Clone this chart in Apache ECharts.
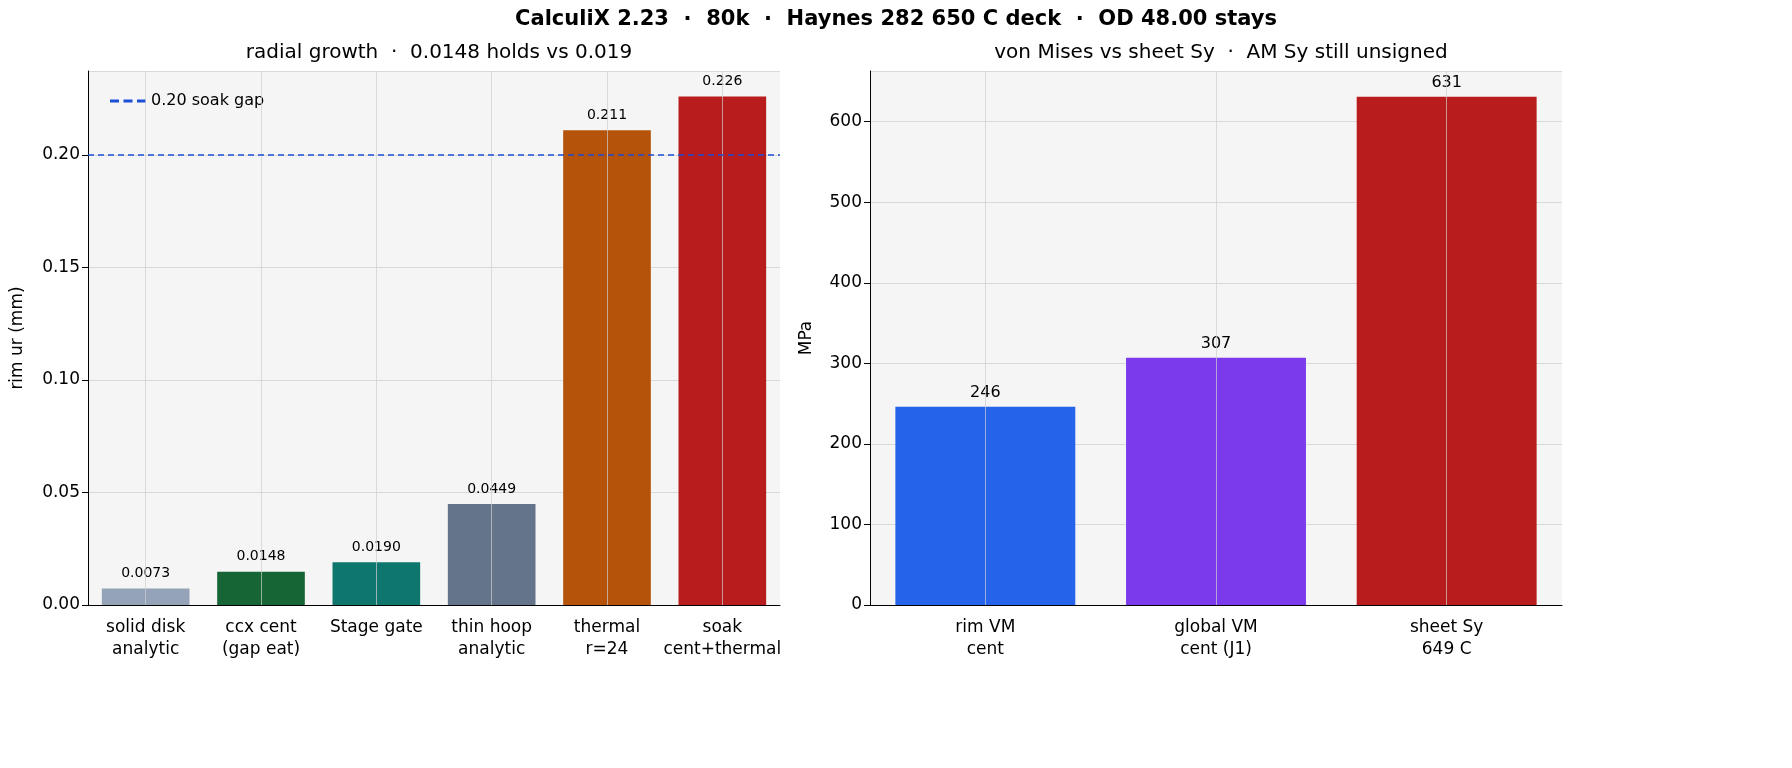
<!DOCTYPE html><html><head><meta charset="utf-8"><script src="https://cdn.jsdelivr.net/npm/echarts@6/dist/echarts.min.js"></script></head><body style="margin:0"><div id="c" style="width:1792px;height:768px"></div><script>
const leftCats=['solid disk\nanalytic','ccx cent\n(gap eat)','Stage gate','thin hoop\nanalytic','thermal\nr=24','soak\ncent+thermal'];
const leftVals=[0.0073,0.0148,0.0190,0.0449,0.211,0.226];
const leftLabels=['0.0073','0.0148','0.0190','0.0449','0.211','0.226'];
const leftColors=['#94a3b8','#166534','#0f766e','#64748b','#b45309','#b91c1c'];
const rightCats=['rim VM\ncent','global VM\ncent (J1)','sheet Sy\n649 C'];
const rightVals=[246,307,631];
const rightColors=['#2563eb','#7c3aed','#b91c1c'];
const gapValue=0.20;
const F='DejaVu Sans';
const ch=echarts.init(document.getElementById('c'));
function vgrid(cats){return {silent:true,symbol:'none',label:{show:false},lineStyle:{color:'#cfcfcf',type:'solid',width:1,opacity:0.7},data:cats.map(c=>({xAxis:c}))};}
const axBase={axisLine:{lineStyle:{color:'#000'}},axisTick:{lineStyle:{color:'#000'},length:6},axisLabel:{color:'#000',fontFamily:F,fontSize:16}};
ch.setOption({
 textStyle:{fontFamily:F},
 title:[{text:'CalculiX 2.23  ·  80k  ·  Haynes 282 650 C deck  ·  OD 48.00 stays',left:'center',top:4,textStyle:{fontFamily:F,fontSize:21,fontWeight:'bold',color:'#000'}},
 {text:'radial growth  ·  0.0148 holds vs 0.019',left:434,textAlign:'center',top:38,textStyle:{fontFamily:F,fontSize:20,fontWeight:'normal',color:'#000'}},
 {text:'von Mises vs sheet Sy  ·  AM Sy still unsigned',left:1216,textAlign:'center',top:38,textStyle:{fontFamily:F,fontSize:20,fontWeight:'normal',color:'#000'}}],
 legend:{data:[{name:'0.20 soak gap',icon:'path://M0,0h6v2h-6zM9,0h6v2h-6zM18,0h6v2h-6z'}],left:105,top:88,width:300,itemWidth:36,itemHeight:3,itemGap:10,textStyle:{fontFamily:F,fontSize:16,color:'#000',width:150,overflow:'none'}},
 grid:[{left:88,right:1012,top:71,bottom:163,backgroundColor:'#f5f5f5',show:true,borderWidth:0},{left:870,right:230,top:71,bottom:163,backgroundColor:'#f5f5f5',show:true,borderWidth:0}],
 xAxis:[Object.assign({type:'category',data:leftCats,gridIndex:0},axBase,{axisLabel:Object.assign({},axBase.axisLabel,{fontSize:17,interval:0,lineHeight:22,margin:12})}),
        Object.assign({type:'category',data:rightCats,gridIndex:1},axBase,{axisLabel:Object.assign({},axBase.axisLabel,{fontSize:17,interval:0,lineHeight:22,margin:12})})],
 yAxis:[Object.assign({type:'value',gridIndex:0,min:0,max:0.2373,interval:0.05,name:'rim ur (mm)',nameLocation:'middle',nameGap:62,nameTextStyle:{fontFamily:F,fontSize:17,color:'#000'},splitLine:{lineStyle:{color:'#d9d9d9'}}},axBase,{axisTick:{show:true,lineStyle:{color:'#000'},length:6},axisLine:{show:true,lineStyle:{color:'#000'}},axisLabel:Object.assign({},axBase.axisLabel,{fontSize:17,formatter:v=>v.toFixed(2),showMaxLabel:false})}),
        Object.assign({type:'value',gridIndex:1,min:0,max:663,interval:100,name:'MPa',nameLocation:'middle',nameGap:55,nameTextStyle:{fontFamily:F,fontSize:17,color:'#000'},splitLine:{lineStyle:{color:'#d9d9d9'}}},axBase,{axisTick:{show:true,lineStyle:{color:'#000'},length:6},axisLine:{show:true,lineStyle:{color:'#000'}},axisLabel:Object.assign({},axBase.axisLabel,{fontSize:17,showMaxLabel:false})})],
 series:[
  {type:'bar',xAxisIndex:0,yAxisIndex:0,barWidth:'76%',data:leftVals.map((v,i)=>({value:v,itemStyle:{color:leftColors[i]},label:{formatter:leftLabels[i]}})),label:{show:true,position:'top',distance:8,fontFamily:F,fontSize:14,color:'#000'},markLine:vgrid(leftCats)},
  {type:'line',name:'0.20 soak gap',xAxisIndex:0,yAxisIndex:0,data:[],itemStyle:{color:'#1d4ed8'},lineStyle:{color:'#1d4ed8',type:'dashed'},markLine:{silent:true,symbol:'none',label:{show:false},lineStyle:{color:'#1d4ed8',type:[6,4],width:1.6},data:[{yAxis:gapValue}]}},
  {type:'bar',xAxisIndex:1,yAxisIndex:1,barWidth:'78%',data:rightVals.map((v,i)=>({value:v,itemStyle:{color:rightColors[i]}})),label:{show:true,position:'top',distance:6,fontFamily:F,fontSize:16,color:'#000'},markLine:vgrid(rightCats)}
 ]});
</script></body></html>
